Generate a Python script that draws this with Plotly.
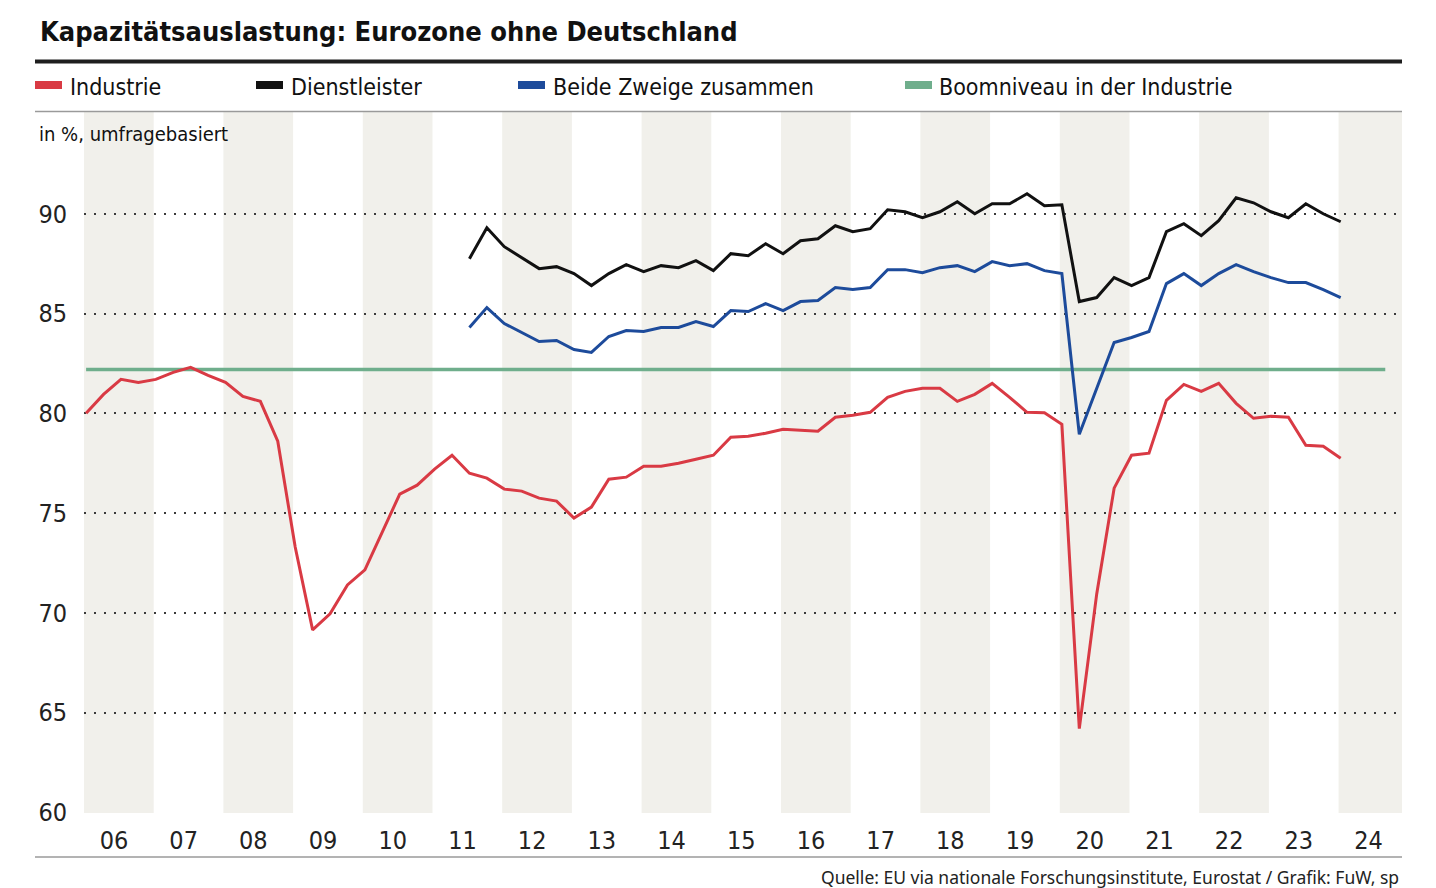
import plotly.graph_objects as go

# ---------------- data ----------------
start_year = 2006
industrie = [
    80.0, 80.95, 81.7, 81.55,   # 2006
    81.7, 82.05, 82.3, 81.9,    # 2007
    81.55, 80.85, 80.6, 78.6,   # 2008
    73.3, 69.15, 69.95, 71.4,   # 2009
    72.15, 74.05, 75.95, 76.4,  # 2010
    77.2, 77.9, 77.0, 76.75,    # 2011
    76.2, 76.1, 75.75, 75.6,    # 2012
    74.75, 75.3, 76.7, 76.8,    # 2013
    77.35, 77.35, 77.5, 77.7,   # 2014
    77.9, 78.8, 78.85, 79.0,    # 2015
    79.2, 79.15, 79.1, 79.8,    # 2016
    79.9, 80.05, 80.8, 81.1,    # 2017
    81.25, 81.25, 80.6, 80.95,  # 2018
    81.5, 80.8, 80.05, 80.03,   # 2019
    79.45, 64.2, 70.95, 76.25,  # 2020
    77.9, 78.0, 80.65, 81.45,   # 2021
    81.1, 81.5, 80.5, 79.75,    # 2022
    79.85, 79.8, 78.4, 78.35,   # 2023
    77.75,                      # 2024
]
services_start_index = 22   # 2011 Q3
dienstleister = [
    87.75, 89.3,
    88.35, 87.8, 87.25, 87.35,
    87.0, 86.4, 87.0, 87.45,
    87.1, 87.4, 87.3, 87.65,
    87.15, 88.0, 87.9, 88.5,
    88.0, 88.65, 88.75, 89.4,
    89.1, 89.25, 90.2, 90.1,
    89.8, 90.1, 90.6, 90.0,
    90.5, 90.5, 91.0, 90.4,
    90.45, 85.6, 85.8, 86.8,
    86.4, 86.8, 89.1, 89.5,
    88.9, 89.65, 90.8, 90.55,
    90.1, 89.8, 90.5, 90.0,
    89.6,
]
beide = [
    84.3, 85.3,
    84.5, 84.05, 83.6, 83.65,
    83.2, 83.05, 83.85, 84.15,
    84.1, 84.3, 84.3, 84.6,
    84.35, 85.15, 85.1, 85.5,
    85.15, 85.6, 85.65, 86.3,
    86.2, 86.3, 87.2, 87.2,
    87.05, 87.3, 87.4, 87.1,
    87.6, 87.4, 87.5, 87.15,
    87.0, 78.95, 81.2, 83.55,
    83.8, 84.1, 86.5, 87.0,
    86.4, 87.0, 87.45, 87.1,
    86.8, 86.55, 86.55, 86.2,
    85.8,
]
boom_level = 82.2
boom_span = [2006.03, 2024.67]
years = list(range(2006, 2025))
year_labels = [f"{y % 100:02d}" for y in years]
y_ticks = [60, 65, 70, 75, 80, 85, 90]

title = "Kapazitätsauslastung: Eurozone ohne Deutschland"
legend_items = [
    ("Industrie", "#d93a44"),
    ("Dienstleister", "#111111"),
    ("Beide Zweige zusammen", "#1d4b9b"),
    ("Boomniveau in der Industrie", "#6fae8c"),
]
subtitle = "in %, umfragebasiert"
source = "Quelle: EU via nationale Forschungsinstitute, Eurostat / Grafik: FuW, sp"

# ---------------- layout geometry ----------------
W, H = 1436, 888
L, R, T, B = 84, 1402, 112, 813
X_RANGE = [2006.0, 2024.91]
Y_RANGE = [59.97, 95.1]
NARROW = "DejaVu Sans Condensed, Liberation Sans Narrow, sans-serif"
REG = "Noto Sans, Open Sans, sans-serif"
OFFSET = 0.03

def qx(i):
    return start_year + i / 4 + OFFSET

def px_x(p):
    return (p - L) / (R - L)

def px_y(p):
    return (B - p) / (B - T)

x_ind = [qx(i) for i in range(len(industrie))]
x_srv = [qx(services_start_index + i) for i in range(len(dienstleister))]
x_bei = [qx(services_start_index + i) for i in range(len(beide))]

red, black, blue, green = [c for _, c in legend_items]

fig = go.Figure()
fig.add_trace(go.Scatter(x=boom_span, y=[boom_level, boom_level], mode="lines",
                         line=dict(color=green, width=3.5), hoverinfo="skip"))
fig.add_trace(go.Scatter(x=x_ind, y=industrie, mode="lines",
                         line=dict(color=red, width=3), hoverinfo="skip"))
fig.add_trace(go.Scatter(x=x_bei, y=beide, mode="lines",
                         line=dict(color=blue, width=3), hoverinfo="skip"))
fig.add_trace(go.Scatter(x=x_srv, y=dienstleister, mode="lines",
                         line=dict(color=black, width=3), hoverinfo="skip"))

shapes = []
for y in years:
    if (y - 2006) % 2 == 0:
        shapes.append(dict(type="rect", xref="x", yref="paper", x0=y, x1=min(y + 1, X_RANGE[1]),
                           y0=0, y1=1, fillcolor="#f1f0eb", line=dict(width=0), layer="below"))
# top thick rule
shapes.append(dict(type="line", xref="paper", yref="paper", x0=px_x(35), x1=px_x(1402),
                   y0=px_y(61.5), y1=px_y(61.5), line=dict(color="#1e1e1e", width=4)))
# thin rule below legend
shapes.append(dict(type="line", xref="paper", yref="paper", x0=px_x(35), x1=px_x(1402),
                   y0=px_y(111.5), y1=px_y(111.5), line=dict(color="#9a9a9a", width=1.5)))
# bottom rule
shapes.append(dict(type="line", xref="paper", yref="paper", x0=px_x(35), x1=px_x(1402),
                   y0=px_y(857), y1=px_y(857), line=dict(color="#9a9a9a", width=1.5)))

annotations = []
annotations.append(dict(text=f"<b>{title}</b>", xref="paper", yref="paper",
                        x=px_x(38), y=px_y(32), xanchor="left", yanchor="middle",
                        showarrow=False, font=dict(family=NARROW, size=27, color="#111")))
legend_pos = [(35, 70), (256, 291), (518, 553), (905, 939)]
for (label, color), (sx, tx) in zip(legend_items, legend_pos):
    shapes.append(dict(type="rect", xref="paper", yref="paper", x0=px_x(sx), x1=px_x(sx + 27),
                       y0=px_y(89), y1=px_y(81), fillcolor=color, line=dict(width=0)))
    annotations.append(dict(text=label, xref="paper", yref="paper", x=px_x(tx - 2), y=px_y(87),
                            xanchor="left", yanchor="middle", showarrow=False,
                            font=dict(family=NARROW, size=23, color="#111")))
annotations.append(dict(text=subtitle, xref="paper", yref="paper", x=px_x(37), y=px_y(134),
                        xanchor="left", yanchor="middle", showarrow=False,
                        font=dict(family=NARROW, size=20, color="#111")))
annotations.append(dict(text=source, xref="paper", yref="paper", x=px_x(1401), y=px_y(877),
                        xanchor="right", yanchor="middle", showarrow=False,
                        font=dict(family=REG, size=17.5, color="#222")))

fig.update_layout(
    width=W, height=H,
    margin=dict(l=L, r=W - R, t=T, b=H - B, pad=0),
    paper_bgcolor="white", plot_bgcolor="white",
    showlegend=False, hovermode=False,
    shapes=shapes, annotations=annotations,
    xaxis=dict(range=X_RANGE, tickmode="array", tickvals=[y + 0.43 for y in years],
               ticktext=year_labels, showgrid=False, zeroline=False, showline=False,
               ticks="", ticklabelstandoff=10, fixedrange=True,
               tickfont=dict(family=NARROW, size=25, color="#222")),
    yaxis=dict(range=Y_RANGE, tickmode="array", tickvals=y_ticks,
               ticktext=[str(v) for v in y_ticks], showgrid=True, gridcolor="#3a3a3a",
               gridwidth=2, griddash="2px,8px", zeroline=False, showline=False, ticks="",
               ticklabelstandoff=16, fixedrange=True,
               tickfont=dict(family=NARROW, size=25, color="#222")),
)

fig.write_html("out.html", config={"displayModeBar": False, "staticPlot": True},
               post_script="document.body.style.margin='0px';")
